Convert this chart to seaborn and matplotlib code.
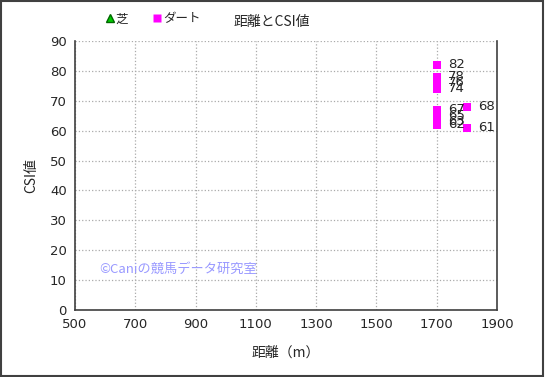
import pandas as pd
import matplotlib.pyplot as plt
import seaborn as sns
from matplotlib.lines import Line2D

# --- データ ---
dirt_dist = [1700, 1700, 1700, 1700, 1700, 1700, 1700, 1700, 1800, 1800]
dirt_csi = [82, 78, 76, 74, 67, 65, 63, 62, 68, 61]
turf_dist = []
turf_csi = []

df = pd.DataFrame({
    'dist': turf_dist + dirt_dist,
    'csi': turf_csi + dirt_csi,
    'surface': ['芝'] * len(turf_dist) + ['ダート'] * len(dirt_dist),
})

sns.set_style('white')
plt.rcParams['font.family'] = ['Noto Sans CJK JP', 'DejaVu Sans']

fig = plt.figure(figsize=(5.45, 3.77), dpi=100)
ax = fig.add_axes([75 / 545, 1 - 310 / 377, 422 / 545, 269 / 377])

sns.scatterplot(data=df, x='dist', y='csi', hue='surface', style='surface',
                palette={'芝': '#00cc00', 'ダート': '#ff00ff'},
                markers={'芝': '^', 'ダート': 's'},
                s=36, edgecolor='none', legend=False, ax=ax)

for x, y in zip(df['dist'], df['csi']):
    ax.text(x + 38, y, str(y), fontsize=9.5, va='center', ha='left', family='DejaVu Sans')

ax.set_xlim(500, 1900)
ax.set_ylim(0, 90)
ax.set_xticks(range(500, 1901, 200))
ax.set_yticks(range(0, 91, 10))
ax.tick_params(labelsize=9.5, length=0, pad=6)
for lab in ax.get_xticklabels() + ax.get_yticklabels():
    lab.set_family('DejaVu Sans')
ax.grid(True, color='#aaaaaa', linestyle=':', linewidth=0.9)
for side in ['left', 'bottom', 'right']:
    ax.spines[side].set_color('#404040')
    ax.spines[side].set_linewidth(1.2)
ax.spines['top'].set_visible(False)

ax.set_xlabel('距離（m）', fontsize=10, labelpad=10)
ax.set_ylabel('CSI値', fontsize=10, labelpad=8)
fig.text(272 / 545, 1 - 22 / 377, '距離とCSI値', fontsize=10, ha='center', va='center')

handles = [Line2D([], [], marker='^', color='#00cc00', linestyle='none', markersize=6, markeredgecolor='#006600'),
           Line2D([], [], marker='s', color='#ff00ff', linestyle='none', markersize=6, markeredgecolor='none')]
fig.legend(handles, ['芝', 'ダート'], loc='center left', bbox_to_anchor=(92 / 545, 1 - 19 / 377),
           ncol=2, frameon=False, fontsize=9, handletextpad=0.0, columnspacing=1.8, handlelength=1.0)

ax.text(0.057, 0.15, '©Caniの競馬データ研究室', fontsize=9.5, color='#9999ff', va='center',
        transform=ax.transAxes)

# 外枠
fig.add_artist(plt.Rectangle((0.002, 0.003), 0.995, 0.994, transform=fig.transFigure,
                             fill=False, edgecolor='#404040', linewidth=1.5))

fig.savefig('out.png', dpi=100)
